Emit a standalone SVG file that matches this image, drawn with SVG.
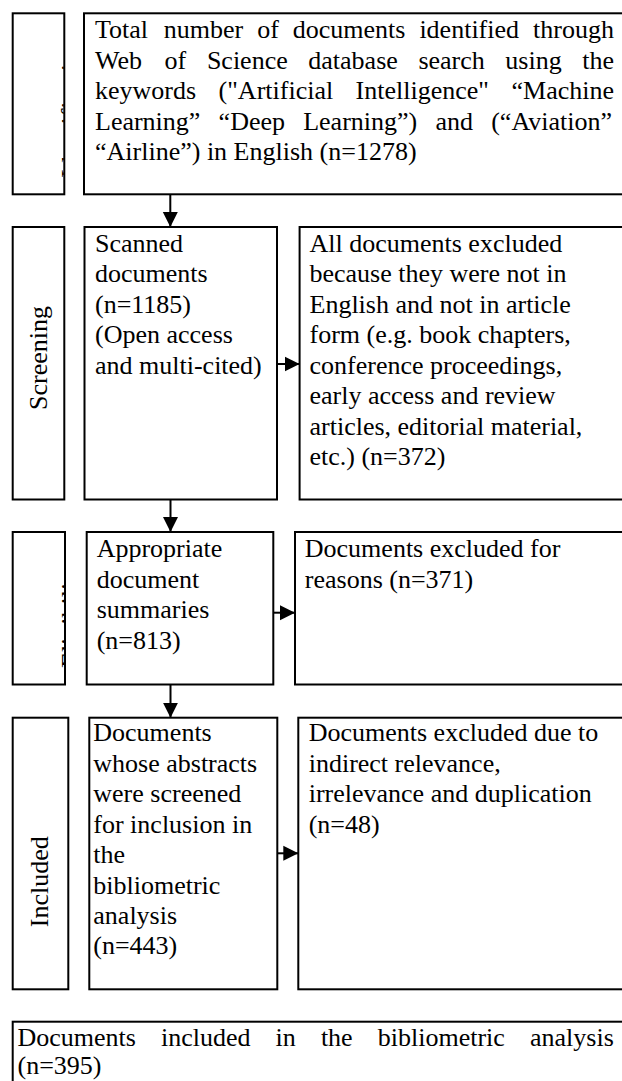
<svg xmlns="http://www.w3.org/2000/svg" width="622" height="1081" viewBox="0 0 622 1081">
<style>
.box{fill:#fff;stroke:#000;stroke-width:2}
.t{font-family:"Liberation Serif","Times New Roman",serif;font-size:26px;fill:#000}
.c{stroke:#000;stroke-width:2;fill:none}
</style>
<defs>
<marker id="ah" markerUnits="userSpaceOnUse" markerWidth="16" markerHeight="16" refX="15" refY="8" orient="auto">
<path d="M0,0.5 L15,8 L0,15.5 Z" fill="#000"/>
</marker>
<clipPath id="clipId"><rect x="13.7" y="14.3" width="50" height="179"/></clipPath>
<clipPath id="clipEl"><rect x="13.7" y="533" width="50.5" height="150.5"/></clipPath>
</defs>
<rect width="622" height="1081" fill="#fff"/>

<g id="stage-identification">
<rect class="box" x="12.7" y="13.3" width="51.6" height="181"/>
<g clip-path="url(#clipId)"><text class="t" transform="translate(79,178) rotate(-90)">Identification</text></g>
</g>
<g id="node-total">
<rect class="box" x="84" y="13.3" width="550" height="181"/>
<text class="t">
<tspan x="95" y="38">Total</tspan><tspan x="163.8" y="38">number</tspan><tspan x="257.2" y="38">of</tspan><tspan x="292.8" y="38">documents</tspan><tspan x="419.4" y="38">identified</tspan><tspan x="533.1" y="38">through</tspan>
<tspan x="95" y="68.5">Web</tspan><tspan x="164.6" y="68.5">of</tspan><tspan x="206.9" y="68.5">Science</tspan><tspan x="308.3" y="68.5">database</tspan><tspan x="418.4" y="68.5">search</tspan><tspan x="505.3" y="68.5">using</tspan><tspan x="582.2" y="68.5">the</tspan>
<tspan x="95" y="99">keywords</tspan><tspan x="218.6" y="99">("Artificial</tspan><tspan x="355.6" y="99">Intelligence"</tspan><tspan x="511.5" y="99">“Machine</tspan>
<tspan x="95" y="129.5">Learning”</tspan><tspan x="218.6" y="129.5">“Deep</tspan><tspan x="303.2" y="129.5">Learning”)</tspan><tspan x="435.5" y="129.5">and</tspan><tspan x="491.2" y="129.5">(“Aviation”</tspan>
<tspan x="95" y="160">“Airline”) in English (n=1278)</tspan>
</text>
</g>

<g id="stage-screening">
<rect class="box" x="12.7" y="227" width="51.6" height="272.5"/>
<text class="t" text-anchor="middle" transform="translate(47,358) rotate(-90)">Screening</text>
</g>
<g id="node-scanned">
<rect class="box" x="84.5" y="227" width="192.5" height="272.5"/>
<text class="t">
<tspan x="95" y="251.5">Scanned</tspan>
<tspan x="95" y="282">documents</tspan>
<tspan x="95" y="312.5">(n=1185)</tspan>
<tspan x="95" y="343">(Open access</tspan>
<tspan x="95" y="373.5">and multi-cited)</tspan>
</text>
</g>
<g id="node-excluded-372">
<rect class="box" x="299.6" y="227" width="340" height="272.5"/>
<text class="t">
<tspan x="309.5" y="251.5">All documents excluded</tspan>
<tspan x="309.5" y="282">because they were not in</tspan>
<tspan x="309.5" y="312.5">English and not in article</tspan>
<tspan x="309.5" y="343">form (e.g. book chapters,</tspan>
<tspan x="309.5" y="373.5">conference proceedings,</tspan>
<tspan x="309.5" y="404">early access and review</tspan>
<tspan x="309.5" y="434.5">articles, editorial material,</tspan>
<tspan x="309.5" y="465">etc.) (n=372)</tspan>
</text>
</g>

<g id="stage-eligibility">
<rect class="box" x="12.7" y="532" width="52.3" height="152.5"/>
<g clip-path="url(#clipEl)"><text class="t" transform="translate(78.5,668) rotate(-90)">Eligibility</text></g>
</g>
<g id="node-appropriate">
<rect class="box" x="86.7" y="532" width="186.6" height="152.5"/>
<text class="t">
<tspan x="96.7" y="557">Appropriate</tspan>
<tspan x="96.7" y="587.5">document</tspan>
<tspan x="96.7" y="618">summaries</tspan>
<tspan x="96.7" y="648.5">(n=813)</tspan>
</text>
</g>
<g id="node-excluded-371">
<rect class="box" x="295" y="532" width="340" height="152.5"/>
<text class="t">
<tspan x="304.8" y="557">Documents excluded for</tspan>
<tspan x="304.8" y="587.5">reasons (n=371)</tspan>
</text>
</g>

<g id="stage-included">
<rect class="box" x="12.7" y="717.7" width="55.6" height="271.6"/>
<text class="t" text-anchor="middle" transform="translate(47.5,881.7) rotate(-90)">Included</text>
</g>
<g id="node-abstracts">
<rect class="box" x="89.3" y="717.7" width="188" height="271.6"/>
<text class="t">
<tspan x="93.3" y="741">Documents</tspan>
<tspan x="93.3" y="771.5">whose abstracts</tspan>
<tspan x="93.3" y="802">were screened</tspan>
<tspan x="93.3" y="832.5">for inclusion in</tspan>
<tspan x="93.3" y="863">the</tspan>
<tspan x="93.3" y="893.5">bibliometric</tspan>
<tspan x="93.3" y="924">analysis</tspan>
<tspan x="93.3" y="954">(n=443)</tspan>
</text>
</g>
<g id="node-excluded-48">
<rect class="box" x="298.3" y="717.7" width="340" height="271.6"/>
<text class="t">
<tspan x="308.7" y="741">Documents excluded due to</tspan>
<tspan x="308.7" y="771.5">indirect relevance,</tspan>
<tspan x="308.7" y="802">irrelevance and duplication</tspan>
<tspan x="308.7" y="832.5">(n=48)</tspan>
</text>
</g>

<g id="node-included-395">
<rect class="box" x="12.7" y="1021.7" width="630" height="80"/>
<text class="t">
<tspan x="17.5" y="1045.5">Documents</tspan><tspan x="161" y="1045.5">included</tspan><tspan x="275.6" y="1045.5">in</tspan><tspan x="320.9" y="1045.5">the</tspan><tspan x="377.8" y="1045.5">bibliometric</tspan><tspan x="530" y="1045.5">analysis</tspan>
<tspan x="17.5" y="1074">(n=395)</tspan>
</text>
</g>

<g id="connectors">
<line class="c" x1="170.3" y1="194.3" x2="170.3" y2="227" marker-end="url(#ah)"/>
<line class="c" x1="277" y1="364" x2="299.6" y2="364" marker-end="url(#ah)"/>
<line class="c" x1="170.5" y1="499.5" x2="170.5" y2="532" marker-end="url(#ah)"/>
<line class="c" x1="273.3" y1="612.7" x2="295" y2="612.7" marker-end="url(#ah)"/>
<line class="c" x1="170.5" y1="684.5" x2="170.5" y2="717.7" marker-end="url(#ah)"/>
<line class="c" x1="277.3" y1="853.3" x2="298.3" y2="853.3" marker-end="url(#ah)"/>
</g>
</svg>
